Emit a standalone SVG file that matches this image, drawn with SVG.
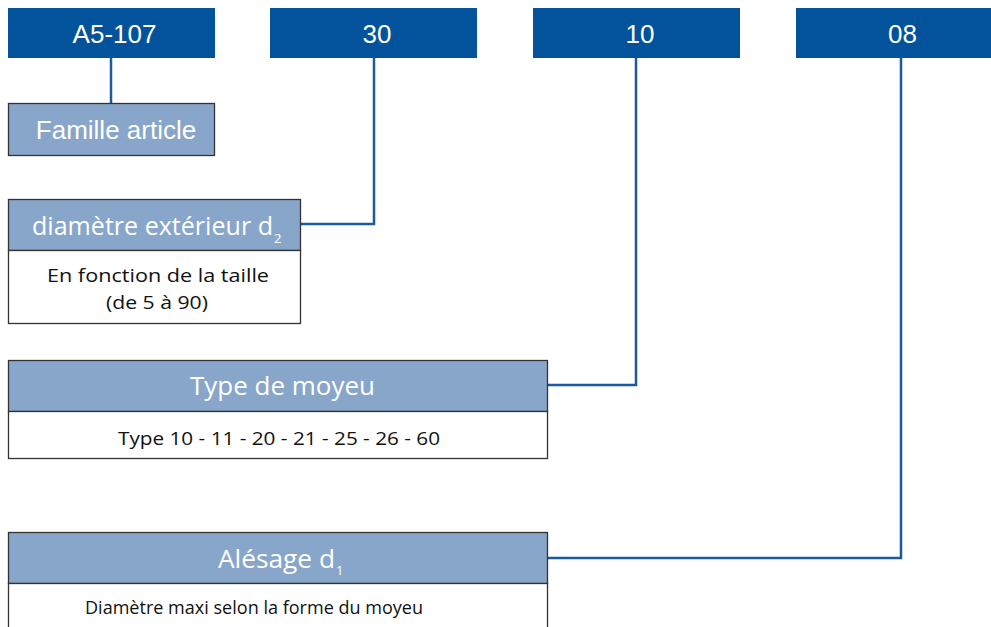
<svg xmlns="http://www.w3.org/2000/svg" width="991" height="627" viewBox="0 0 991 627">
<style>
.code{fill:#02539b}
.codet{font-family:"Liberation Sans",Arial,sans-serif;font-size:26px;fill:#fff;text-anchor:middle}
.hdr{fill:#88a6c9;stroke:#333;stroke-width:1.3}
.body{fill:#fff;stroke:#333;stroke-width:1.3}
.ht{font-family:"Open Sans","Noto Sans",sans-serif;font-size:25px;fill:#fff}
.bt{font-family:"Open Sans","Noto Sans",sans-serif;font-size:19px;fill:#111}
.sub{font-family:"Open Sans","Noto Sans",sans-serif;font-size:13px;fill:#fff}
.conn{fill:none;stroke:#1a5aa0;stroke-width:2.5}
</style>
<rect width="991" height="627" fill="#fff"/>
<g id="connectors">
<path class="conn" d="M111,58 V103"/>
<path class="conn" d="M374,58 V224 H300"/>
<path class="conn" d="M636,58 V385 H548"/>
<path class="conn" d="M901,58 V558 H548"/>
</g>
<g id="code-a5107"><rect class="code" x="8" y="8" width="207" height="50"/><text class="codet" x="114.5" y="43">A5-107</text></g>
<g id="code-30"><rect class="code" x="270" y="8" width="207" height="50"/><text class="codet" x="377" y="43">30</text></g>
<g id="code-10"><rect class="code" x="533" y="8" width="207" height="50"/><text class="codet" x="640" y="43">10</text></g>
<g id="code-08"><rect class="code" x="796" y="8" width="207" height="50"/><text class="codet" x="902.5" y="43">08</text></g>
<g id="famille"><rect class="hdr" x="8.5" y="103.5" width="206" height="52"/><text class="codet" x="116" y="139">Famille article</text></g>
<g id="diametre">
<rect class="hdr" x="8.5" y="199.5" width="292" height="51"/>
<rect class="body" x="8.5" y="250.5" width="292" height="73"/>
<text class="ht" x="32" y="235" textLength="241" lengthAdjust="spacingAndGlyphs">diamètre extérieur d</text>
<text class="sub" x="274" y="243">2</text>
<text class="bt" x="47" y="282" textLength="222" lengthAdjust="spacingAndGlyphs">En fonction de la taille</text>
<text class="bt" x="106" y="309" textLength="102" lengthAdjust="spacingAndGlyphs">(de 5 à 90)</text>
</g>
<g id="type">
<rect class="hdr" x="8.5" y="360.5" width="539" height="51"/>
<rect class="body" x="8.5" y="411.5" width="539" height="47"/>
<text class="ht" x="190" y="395" textLength="185" lengthAdjust="spacingAndGlyphs">Type de moyeu</text>
<text class="bt" x="118" y="445" textLength="322" lengthAdjust="spacingAndGlyphs">Type 10 - 11 - 20 - 21 - 25 - 26 - 60</text>
</g>
<g id="alesage">
<rect class="hdr" x="8.5" y="532.5" width="539" height="51"/>
<rect class="body" x="8.5" y="583.5" width="539" height="50"/>
<text class="ht" x="218" y="568" textLength="117" lengthAdjust="spacingAndGlyphs">Alésage d</text>
<text class="sub" x="336" y="575">1</text>
<text class="bt" x="85" y="614" textLength="338" lengthAdjust="spacingAndGlyphs">Diamètre maxi selon la forme du moyeu</text>
</g>
</svg>
